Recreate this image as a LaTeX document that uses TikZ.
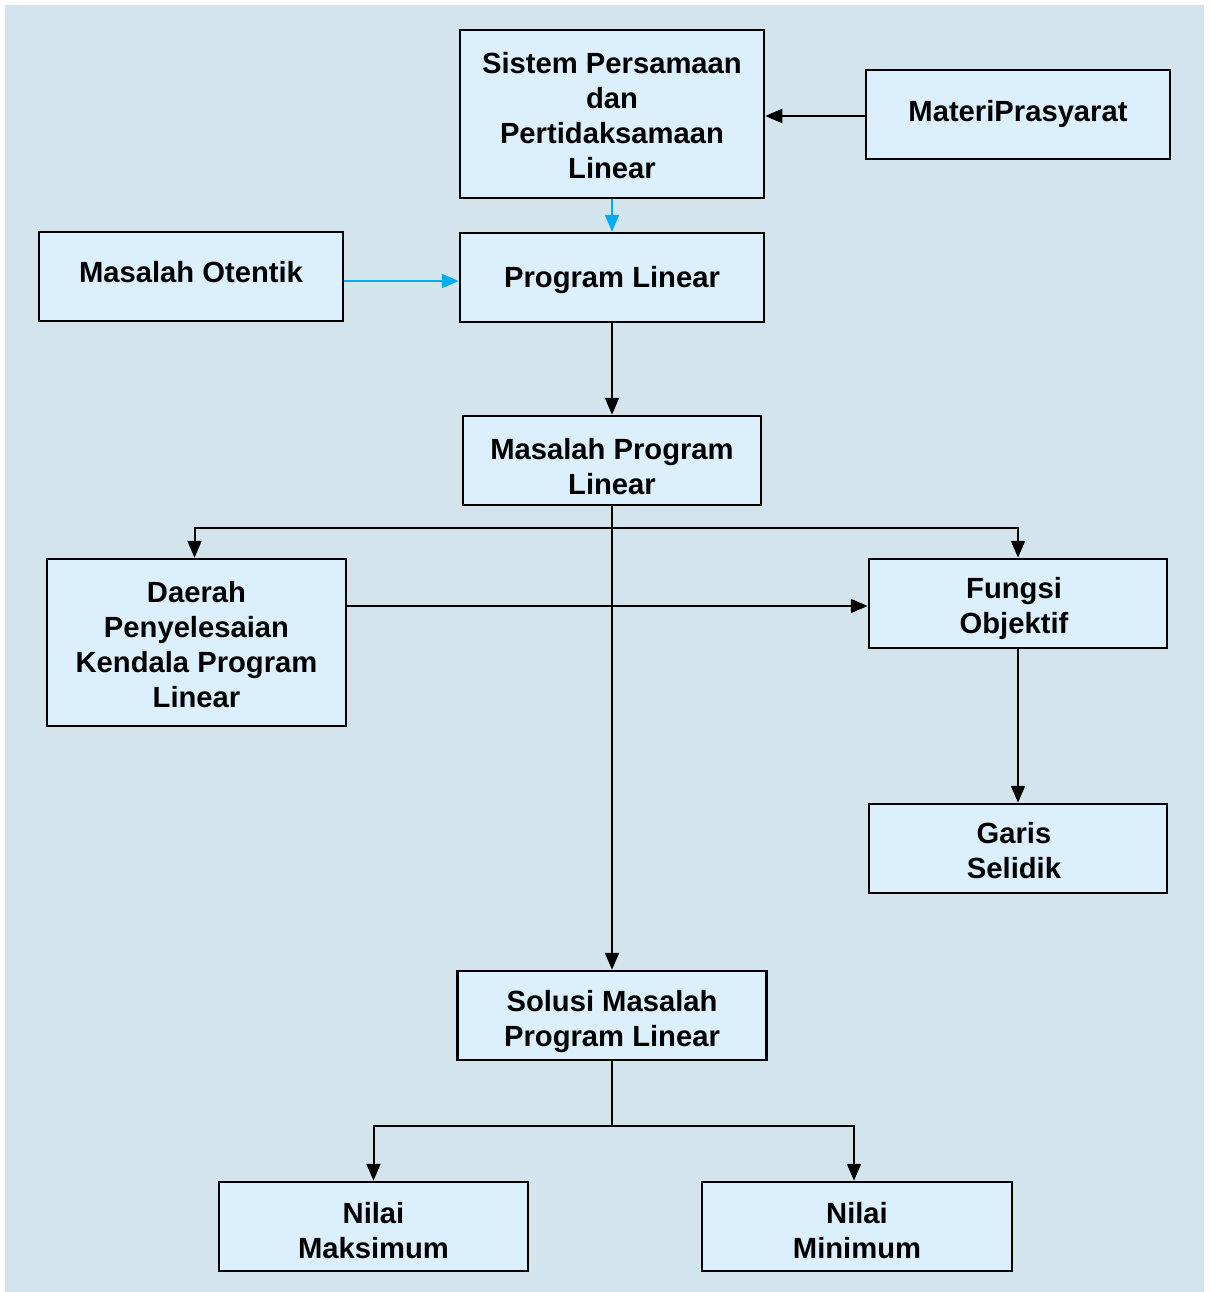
\documentclass[tikz,border=0pt]{standalone}
\usepackage{fontspec}
\setmainfont{Liberation Sans}
\usetikzlibrary{arrows.meta,calc}
\definecolor{bgc}{HTML}{D4E4EC}
\definecolor{boxc}{HTML}{DBF0FC}
\definecolor{cyanc}{HTML}{00AEEF}
\tikzset{
  box/.style={draw=black, line width=2.5pt, fill=boxc, inner sep=0pt},
  txt/.style={inner sep=0pt, align=center, font=\fontsize{29.2}{35}\selectfont\bfseries},
  arr/.style={line width=2pt, -{Triangle[length=17pt,width=14pt]}},
  carr/.style={arr, draw=cyanc, -{Triangle[length=17pt,width=14pt,fill=cyanc]}},
  con/.style={line width=2pt}
}
\newcommand{\bx}[7]{%
  \node[box, minimum width=#4pt, minimum height=#5pt] (#1) at (#2,#3) {};
  \node[txt] (#1t) at ($(#1.center)+(0,#6)$) {#7};}
\begin{document}
\begin{tikzpicture}[x=1pt,y=-1pt]
\useasboundingbox (0,0) rectangle (1210,1292);
\fill[bgc] (5,5) rectangle (1204,1292);
\bx{sis}{612}{114}{304}{168}{1.5}{Sistem Persamaan\\dan\\Pertidaksamaan\\Linear}
\bx{mat}{1018}{114.5}{304}{89}{-1}{MateriPrasyarat}
\bx{ote}{191}{276.5}{304}{89}{-4}{Masalah Otentik}
\bx{pl}{612}{277.5}{304}{89}{3}{Program Linear}
\bx{mpl}{612}{460.5}{298}{89}{6}{Masalah Program\\Linear}
\bx{dae}{196.5}{642.5}{299}{167}{2}{Daerah\\Penyelesaian\\Kendala Program\\Linear}
\bx{fun}{1018}{603.5}{298}{89}{5}{\hspace*{-8pt}Fungsi\\\hspace*{-8pt}Objektif}
\bx{gar}{1018}{848.5}{298}{89}{2}{\hspace*{-8pt}Garis\\\hspace*{-8pt}Selidik}
\bx{sol}{612}{1015.5}{309}{89}{6}{Solusi Masalah\\Program Linear}
\bx{max}{373.5}{1226.5}{309}{89}{4}{Nilai\\Maksimum}
\bx{min}{857}{1226.5}{310}{89}{4}{Nilai\\Minimum}
\coordinate (b1) at (612,528);
\coordinate (b2) at (612,1126);
\draw[arr] ([yshift=-1.5pt]mat.west) -- ([yshift=-2pt]sis.east);
\draw[carr] (sis.south) -- (pl.north);
\draw[carr] ([yshift=-4.5pt]ote.east) -- ([yshift=-3.5pt]pl.west);
\draw[arr] (pl.south) -- (mpl.north);
\draw[arr] (mpl.south) -- (sol.north);
\draw[arr] (b1) -| ([xshift=-2pt]dae.north);
\draw[arr] (b1) -| (fun.north);
\draw[arr] ([yshift=36.5pt]dae.east) -- ([yshift=-2.5pt]fun.west);
\draw[arr] (fun.south) -- (gar.north);
\draw[con] (sol.south) -- (b2);
\draw[arr] (b2) -| (max.north);
\draw[arr] (b2) -| ([xshift=-3pt]min.north);
\end{tikzpicture}
\end{document}
